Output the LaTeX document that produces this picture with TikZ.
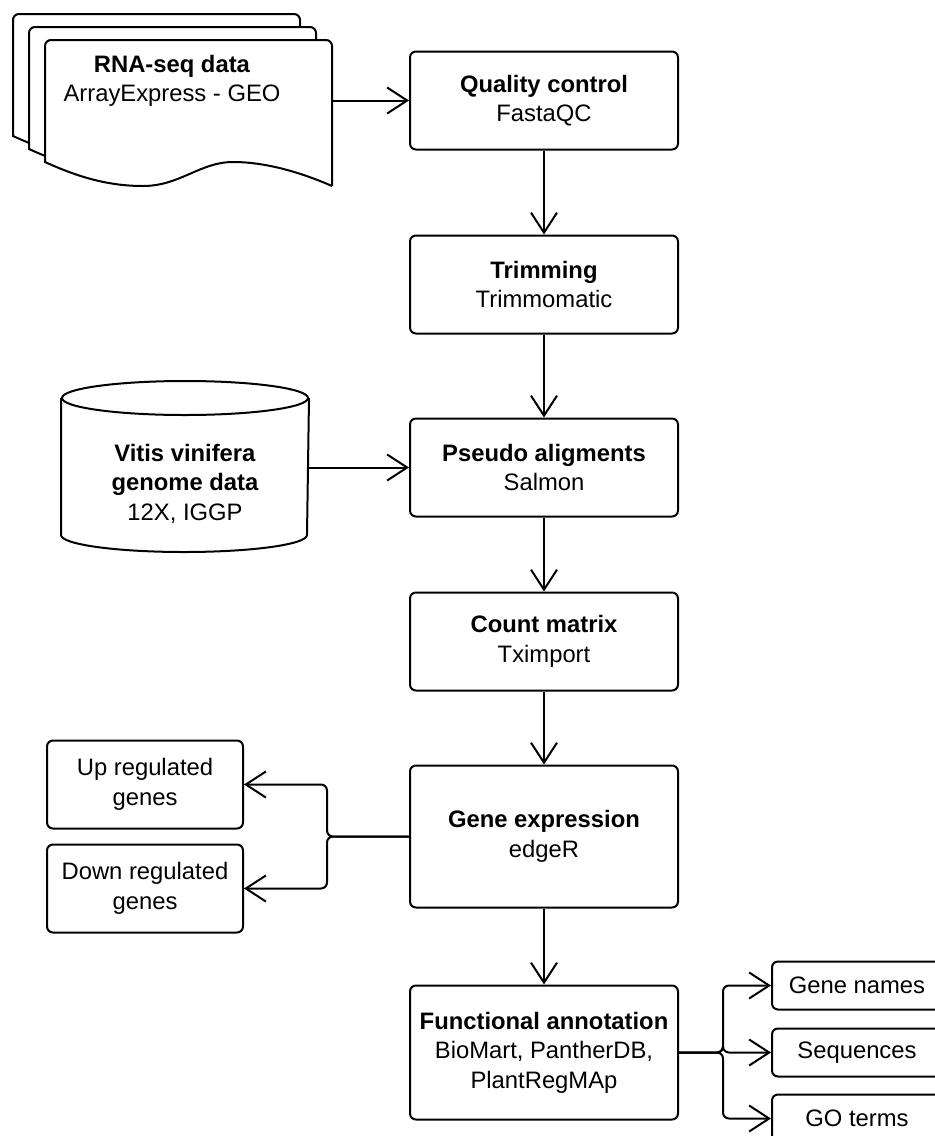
\documentclass[tikz,border=0pt]{standalone}
\usepackage{fontspec}
\setmainfont{Liberation Sans}
\usetikzlibrary{arrows.meta,positioning}

\begin{document}
\begin{tikzpicture}[
      x=1pt, y=-1pt,
      line width=2pt,
      font=\fontsize{23.8}{29.5}\selectfont,
      stepbox/.style={
         rectangle,
         draw=black,
         rounded corners=6pt,
         align=center,
         minimum width=268pt,
         minimum height=98pt},
      sidebox/.style={
         rectangle,
         draw=black,
         rounded corners=6pt,
         align=center,
         minimum width=196pt,
         minimum height=88pt},
      outbox/.style={
         rectangle,
         draw=black,
         rounded corners=6pt,
         minimum width=170pt,
         minimum height=48pt},
      myarrow/.style={
        -{Straight Barb[length=20pt,width=26pt]}},
      ]
      \useasboundingbox (0,0) rectangle (935,1136);
      \clip (0,0) rectangle (935,1136);

      % input data (stacked documents)
      \foreach \k in {2,1,0}
        \draw[fill=white, shift={(-16*\k,-13*\k)}]
          (332,186) .. controls (300,172) and (265,162) .. (233,162)
          .. controls (200,162) and (180,186) .. (143,186)
          .. controls (110,186) and (80,178) .. (45,162)
          [rounded corners=6pt] -- (45,40) -- (332,40) -- (332,186);
      \node[align=center] (rnaseq) at (172,81) {\textbf{RNA-seq data}\\ArrayExpress - GEO};
      \coordinate (docout) at (332,100.5);

      % pipeline
      \node[stepbox] (qc) at (544,100.5) {\textbf{Quality control}\\FastaQC};
      \node[stepbox,below=84pt of qc] (trim) {\textbf{Trimming}\\Trimmomatic};
      \node[stepbox,below=83pt of trim] (pseudo) {\textbf{Pseudo aligments}\\Salmon};
      \node[stepbox,below=74pt of pseudo] (count) {\textbf{Count matrix}\\Tximport};
      \node[stepbox,below=73pt of count,minimum height=142pt] (gene) {\textbf{Gene expression}\\edgeR};
      \node[stepbox,below=76pt of gene,minimum height=134pt] (func)
        {\textbf{Functional annotation}\\BioMart, PantherDB,\\PlantRegMAp};

      % genome (cylinder)
      \node[align=center,minimum width=246pt,minimum height=135pt] (vitis) at (185,483.5)
        {\textbf{Vitis vinifera}\\\textbf{genome data}\\12X, IGGP};
      \draw ([yshift=17pt]vitis.north west) -- ([yshift=17pt]vitis.south west)
        arc[start angle=180,end angle=360,x radius=123pt,y radius=17pt]
        -- ([yshift=17pt]vitis.north east);
      \draw ([yshift=17pt]vitis.north) ellipse [x radius=123pt,y radius=17pt];

      % results
      \node[sidebox,left=165pt of gene,yshift=52pt] (up) {Up regulated\\genes};
      \node[sidebox,left=165pt of gene,yshift=-52pt] (down) {Down regulated\\genes};
      \node[outbox,right=92pt of func] (seq) {Sequences};
      \node[outbox,above=17pt of seq] (names) {Gene names};
      \node[outbox,below=16pt of seq] (goterms) {GO terms};

      \draw[myarrow] (docout) -- (qc.west);
      \draw[myarrow] (vitis.east |- pseudo.west) -- (pseudo.west);

      \foreach \i/\j in {qc/trim, trim/pseudo, pseudo/count, count/gene, gene/func}
        \draw[myarrow] (\i) -- (\j);

      \foreach \j in {up,down}
        \draw[myarrow,rounded corners=6pt] (gene.west) -- ++(-82,0) |- (\j.east);
      \foreach \j in {names,seq,goterms}
        \draw[myarrow,rounded corners=6pt] (func.east) -- ++(44,0) |- (\j.west);
\end{tikzpicture}
\end{document}
